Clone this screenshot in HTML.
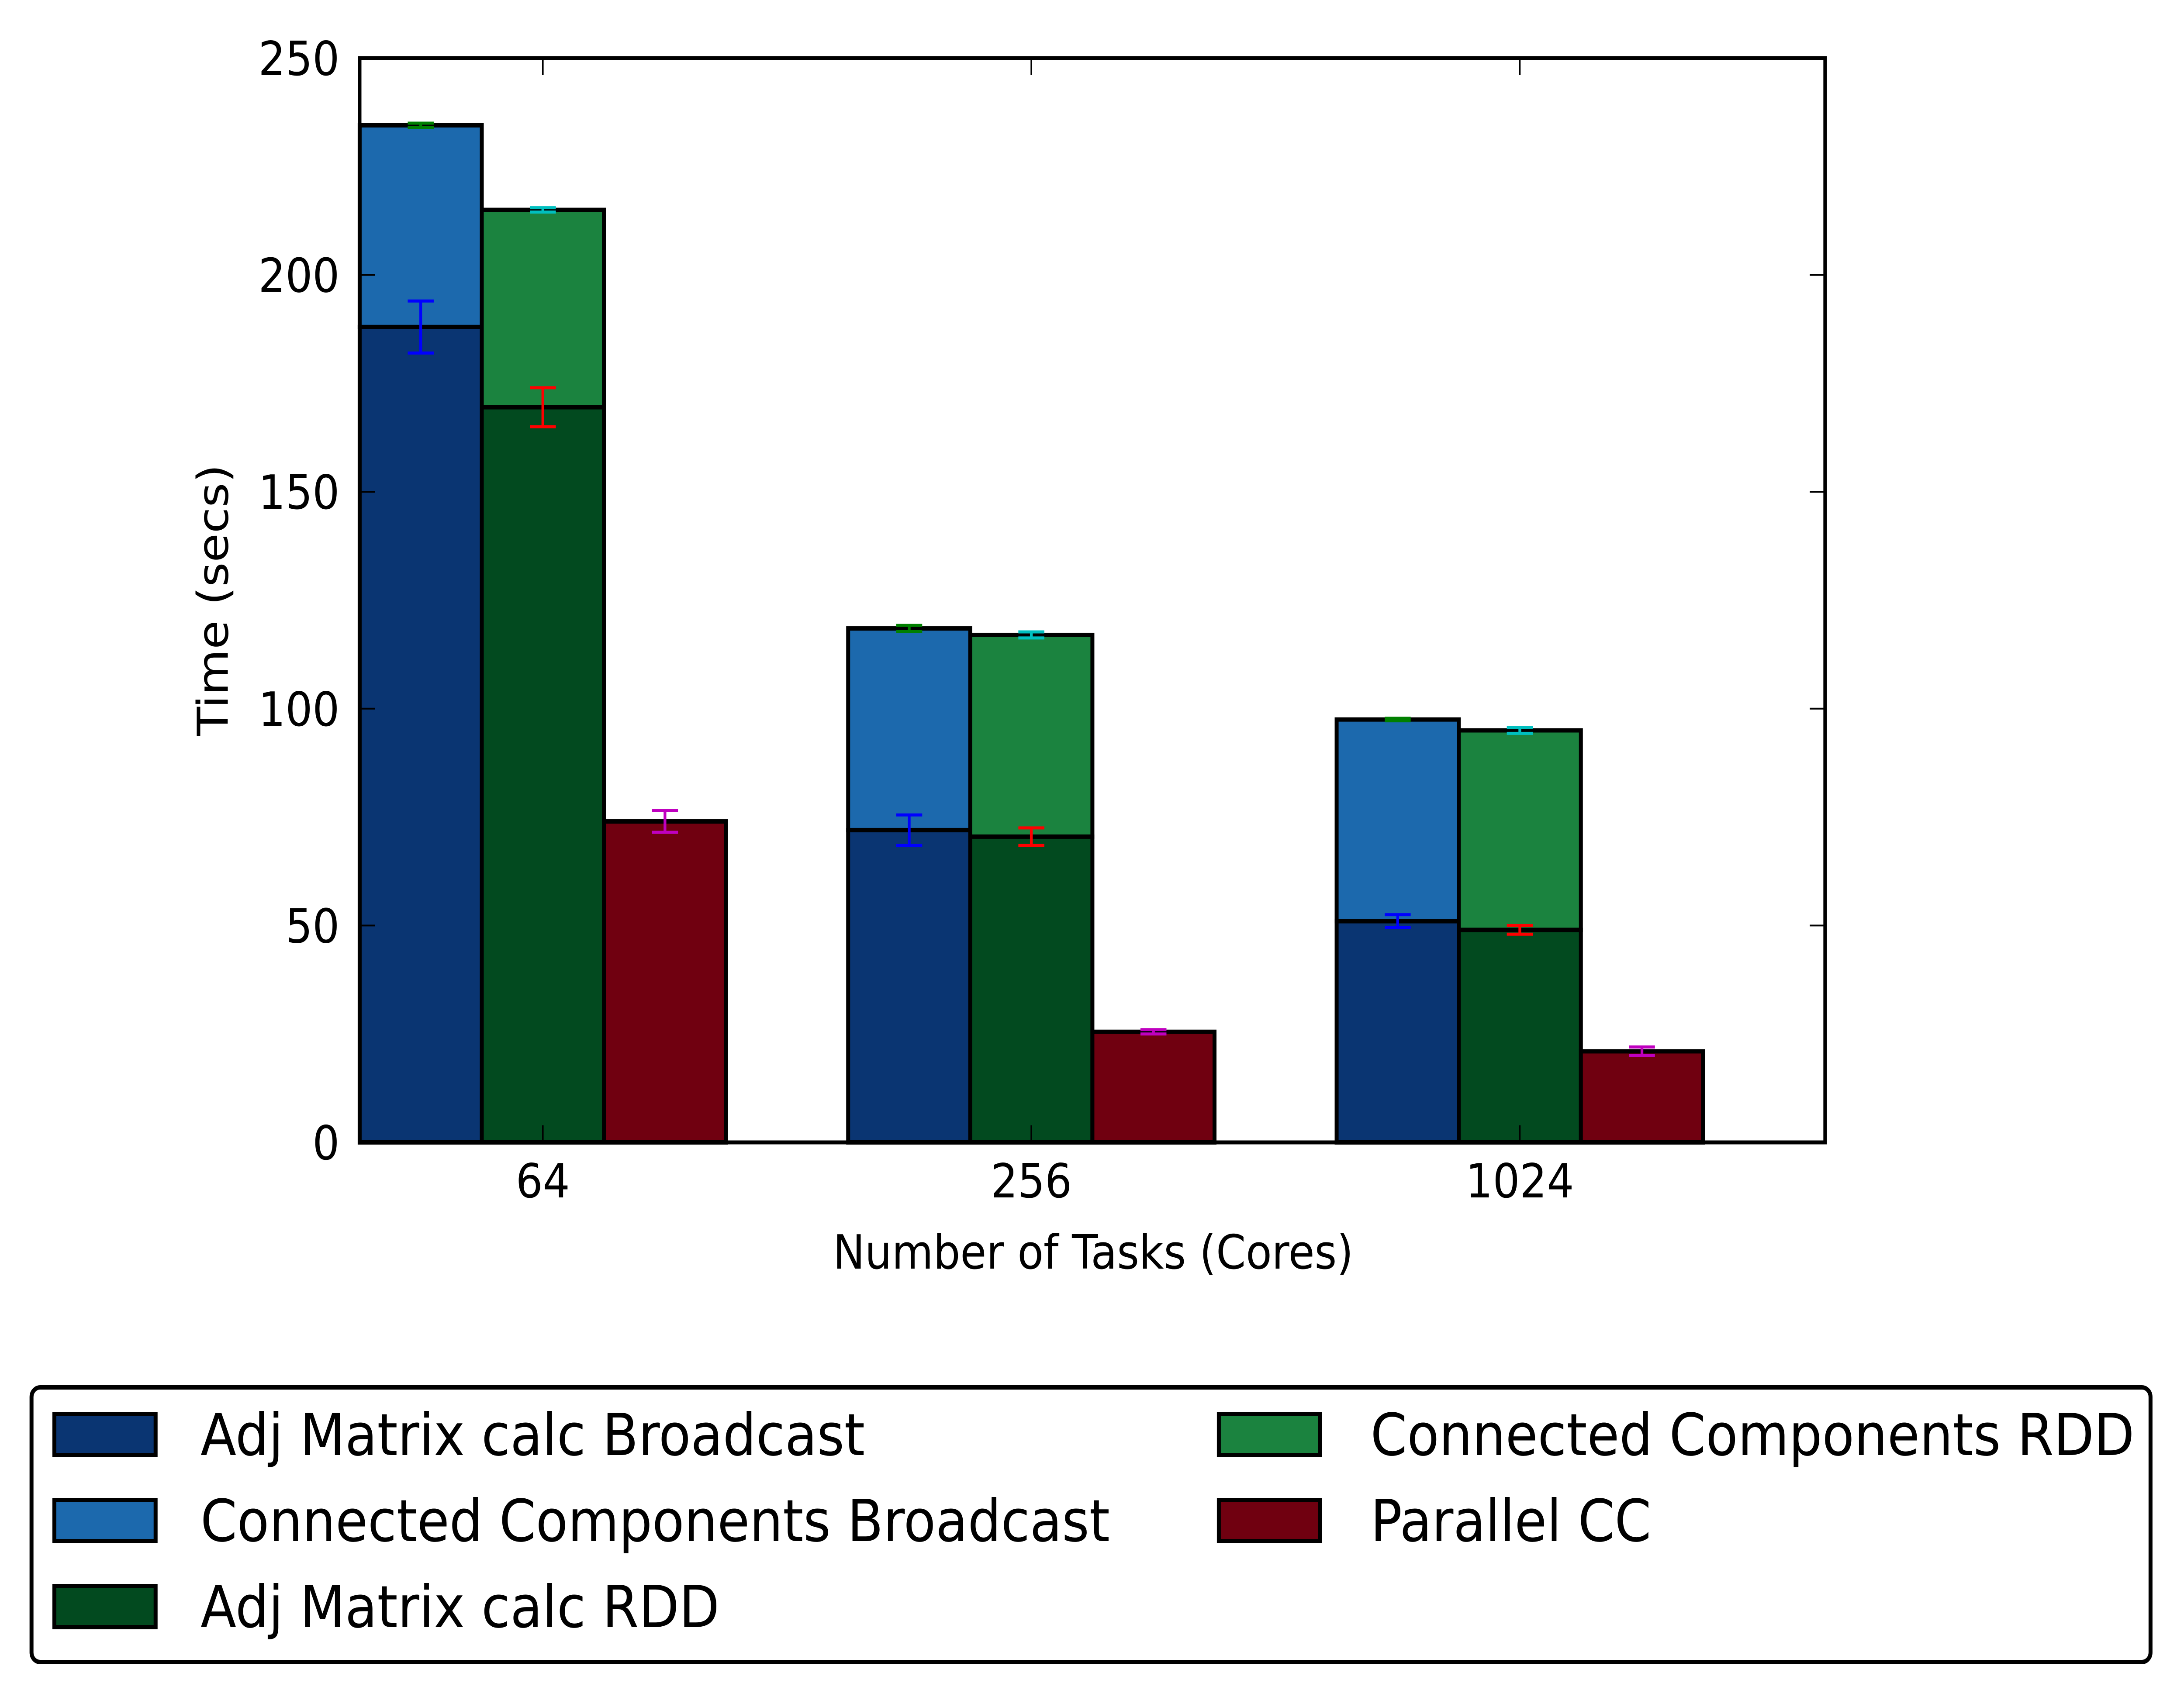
<!DOCTYPE html>
<html><head><meta charset="utf-8"><style>
html,body{margin:0;padding:0;background:#fff;width:100%;height:100%;overflow:hidden;}
svg{display:block;position:absolute;left:0;top:0;width:100vw;height:100vh;font-family:"DejaVu Sans","Liberation Sans",sans-serif;}
</style></head><body>
<svg id="chart" viewBox="0 0 5544 3886" preserveAspectRatio="none" xmlns="http://www.w3.org/2000/svg">
<rect x="0" y="0" width="5544" height="3886" fill="#fff"/>
<g id="bars"></g>
<g id="errs"></g>
<g id="axes"></g>
<text x="2775" y="2905" font-size="108" text-anchor="middle">Number of Tasks (Cores)</text>
<text transform="translate(578,1374) rotate(-90)" font-size="108" text-anchor="middle">Time (secs)</text>
<g id="legend">
<rect x="80" y="3177" width="5379" height="629" rx="22" fill="#fff" stroke="#000" stroke-width="10"/>
</g>
</svg>
<script>
const categories = ["64", "256", "1024"];
const adjBroadcast = [188, 72, 51];
const ccBroadcast = [46.5, 46.5, 46.5];
const adjRDD = [169.5, 70.5, 49];
const ccRDD = [45.5, 46.5, 46];
const parallelCC = [74, 25.5, 21];
const errAdjBroadcast = [6, 3.5, 1.5];
const errCCBroadcast = [0.5, 0.7, 0.3];
const errAdjRDD = [4.5, 2, 1];
const errCCRDD = [0.5, 0.7, 0.7];
const errParallel = [2.5, 0.5, 1];
const yTicks = [0, 50, 100, 150, 200, 250];
const legendLabels = ["Adj Matrix calc Broadcast", "Connected Components Broadcast", "Adj Matrix calc RDD", "Connected Components RDD", "Parallel CC"];

const NS = "http://www.w3.org/2000/svg";
const X0 = 913, X1 = 4633, Y0 = 2616, Y1 = 133, BW = 310, GS = 1240;
const yMax = 250;
function ys(v){ return Y0 - (v / yMax) * (Y0 - Y1); }
function xs(g, k){ return X0 + g * GS + k * BW; }
function mk(tag, attrs, parent){
  const e = document.createElementNS(NS, tag);
  for (const k in attrs) e.setAttribute(k, attrs[k]);
  parent.appendChild(e);
  return e;
}
const C = {ab:"#0a3572", cb:"#1c69ad", ar:"#024a1f", cr:"#1b833f", p:"#700010"};
const bars = document.getElementById("bars");
const errs = document.getElementById("errs");
const axes = document.getElementById("axes");

function bar(x, v0, v1, fill, name){
  const r = mk("rect", {x:x, y:ys(v1), width:BW, height:ys(v0)-ys(v1), fill:fill, stroke:"#000", "stroke-width":10}, bars);
  
  
}
function err(cx, v, e, color, name){
  const g = mk("g", {stroke:color, "stroke-width":7}, errs);
  
  
  mk("line", {x1:cx, x2:cx, y1:ys(v-e), y2:ys(v+e)}, g);
  mk("line", {x1:cx-33, x2:cx+33, y1:ys(v-e), y2:ys(v-e)}, g);
  mk("line", {x1:cx-33, x2:cx+33, y1:ys(v+e), y2:ys(v+e)}, g);
}
categories.forEach((c, i) => {
  bar(xs(i,0), 0, adjBroadcast[i], C.ab, "bar-adj-broadcast-" + c);
  bar(xs(i,0), adjBroadcast[i], adjBroadcast[i] + ccBroadcast[i], C.cb, "bar-cc-broadcast-" + c);
  bar(xs(i,1), 0, adjRDD[i], C.ar, "bar-adj-rdd-" + c);
  bar(xs(i,1), adjRDD[i], adjRDD[i] + ccRDD[i], C.cr, "bar-cc-rdd-" + c);
  bar(xs(i,2), 0, parallelCC[i], C.p, "bar-parallel-cc-" + c);
});
categories.forEach((c, i) => {
  err(xs(i,0)+BW/2, adjBroadcast[i], errAdjBroadcast[i], "#0000ff", "err-adj-broadcast-" + c);
  err(xs(i,0)+BW/2, adjBroadcast[i] + ccBroadcast[i], errCCBroadcast[i], "#008000", "err-cc-broadcast-" + c);
  err(xs(i,1)+BW/2, adjRDD[i], errAdjRDD[i], "#ff0000", "err-adj-rdd-" + c);
  err(xs(i,1)+BW/2, adjRDD[i] + ccRDD[i], errCCRDD[i], "#00bfbf", "err-cc-rdd-" + c);
  err(xs(i,2)+BW/2, parallelCC[i], errParallel[i], "#bf00bf", "err-parallel-cc-" + c);
});
const frame = mk("rect", {x:X0, y:Y1, width:X1-X0, height:Y0-Y1, fill:"none", stroke:"#000", "stroke-width":9}, axes);


yTicks.forEach(t => {
  const y = ys(t);
  mk("line", {x1:X0, x2:X0+39, y1:y, y2:y, stroke:"#000", "stroke-width":4}, axes);
  mk("line", {x1:X1-39, x2:X1, y1:y, y2:y, stroke:"#000", "stroke-width":4}, axes);
  const tx = mk("text", {x:862, y:y+39, "font-size":108, "text-anchor":"end"}, axes);
  tx.textContent = t;
  
  
});
categories.forEach((c, i) => {
  const x = xs(i,1) + BW/2;
  mk("line", {x1:x, x2:x, y1:Y0, y2:Y0-39, stroke:"#000", "stroke-width":4}, axes);
  mk("line", {x1:x, x2:x, y1:Y1, y2:Y1+39, stroke:"#000", "stroke-width":4}, axes);
  const tx = mk("text", {x:x, y:2742, "font-size":108, "text-anchor":"middle"}, axes);
  tx.textContent = c;
  
  
});
const legend = document.getElementById("legend");
const lcolors = [C.ab, C.cb, C.ar, C.cr, C.p];
const lpos = [[133,509,0],[133,509,1],[133,509,2],[3089,3479,0],[3089,3479,1]];
legendLabels.forEach((lab, i) => {
  const [mx, tx, row] = lpos[i];
  const cy = 3285 + row * 197;
  const g = mk("g", {}, legend);
  
  
  mk("rect", {x:mx+5, y:cy-47, width:257, height:94, fill:lcolors[i], stroke:"#000", "stroke-width":10}, g);
  const t = mk("text", {x:tx, y:cy+47, "font-size":133}, g);
  t.textContent = lab;
});
</script>
</body></html>
